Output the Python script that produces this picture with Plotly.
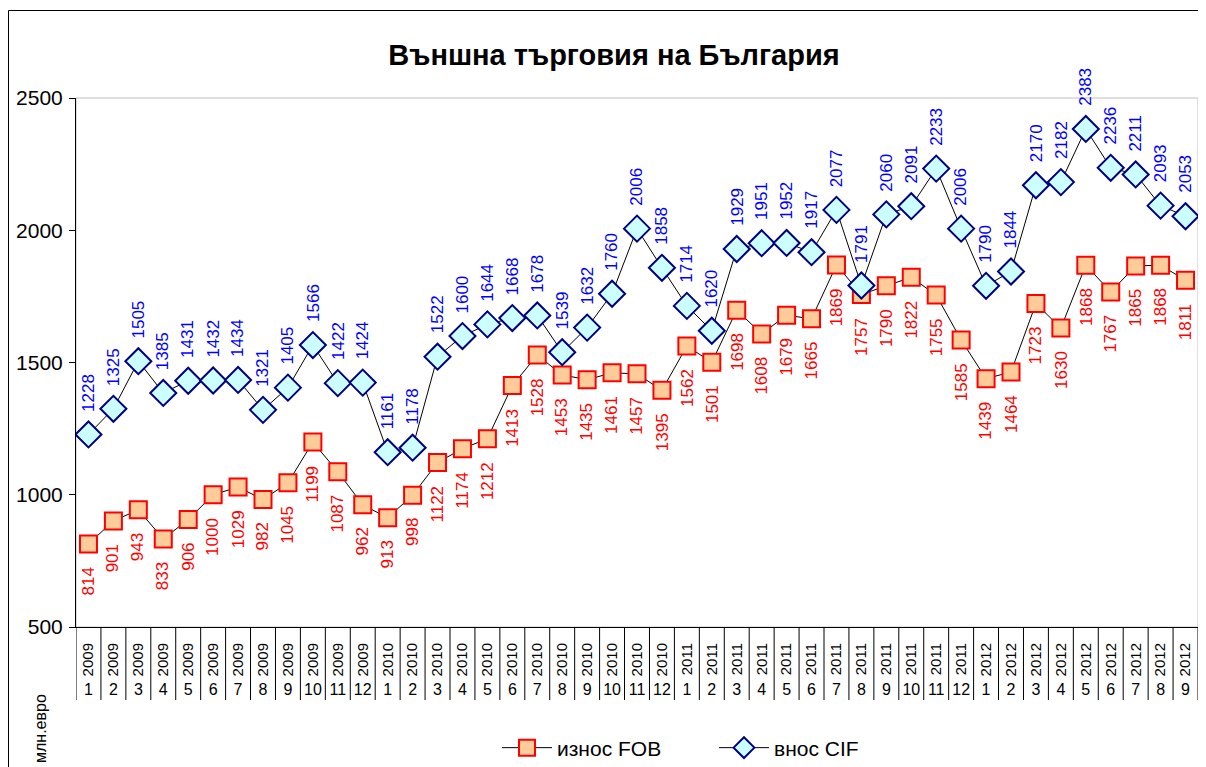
import plotly.graph_objects as go

years = ["2009"] * 12 + ["2010"] * 12 + ["2011"] * 12 + ["2012"] * 9
months = [str(m) for m in range(1, 13)] * 3 + [str(m) for m in range(1, 10)]

export_fob = [814, 901, 943, 833, 906, 1000, 1029, 982, 1045, 1199, 1087, 962,
              913, 998, 1122, 1174, 1212, 1413, 1528, 1453, 1435, 1461, 1457, 1395,
              1562, 1501, 1698, 1608, 1679, 1665, 1869, 1757, 1790, 1822, 1755, 1585,
              1439, 1464, 1723, 1630, 1868, 1767, 1865, 1868, 1811]
import_cif = [1228, 1325, 1505, 1385, 1431, 1432, 1434, 1321, 1405, 1566, 1422, 1424,
              1161, 1178, 1522, 1600, 1644, 1668, 1678, 1539, 1632, 1760, 2006, 1858,
              1714, 1620, 1929, 1951, 1952, 1917, 2077, 1791, 2060, 2091, 2233, 2006,
              1790, 1844, 2170, 2182, 2383, 2236, 2211, 2093, 2053]

y_ticks = [500, 1000, 1500, 2000, 2500]

n = len(years)
idx = list(range(n))

OFF = 8  # page offset of the figure (body margin)
W, H = 1206, 767
ML, MR, MT, MB = 76 - OFF, 16, 98 - OFF, 0
PW = W - ML - MR
PH = H - MT - MB


def py(page_pix):
    return (H - MB - (page_pix - OFF)) / PH


def px(page_pix):
    return ((page_pix - OFF) - ML) / PW


FONT = "Arial, Liberation Sans, sans-serif"

fig = go.Figure()
fig.add_trace(go.Scatter(
    x=idx, y=export_fob, mode="lines+markers", name="износ FOB",
    line=dict(color="black", width=1),
    marker=dict(symbol="square", size=17, color="#FFCC99",
                line=dict(color="#FF0000", width=2)),
    hoverinfo="x+y",
))
fig.add_trace(go.Scatter(
    x=idx, y=import_cif, mode="lines+markers", name="внос CIF",
    line=dict(color="black", width=1),
    marker=dict(symbol="diamond", size=20, color="#CCFFFF",
                line=dict(color="#000080", width=2)),
    hoverinfo="x+y",
))
# empty helper trace so that the month axis (second level of the category axis) is drawn
fig.add_trace(go.Scatter(
    x=idx, y=[None] * n, xaxis="x2", yaxis="y", mode="lines",
    showlegend=False, hoverinfo="skip",
))

annotations = []
for i, v in zip(idx, export_fob):
    annotations.append(dict(x=i, y=v, xref="x", yref="y", text=str(v), showarrow=False,
                            textangle=-90, xanchor="center", yanchor="top", yshift=-21,
                            font=dict(family=FONT, size=17, color="#FF0000")))
for i, v in zip(idx, import_cif):
    annotations.append(dict(x=i, y=v, xref="x", yref="y", text=str(v), showarrow=False,
                            textangle=-90, xanchor="center", yanchor="bottom", yshift=21,
                            font=dict(family=FONT, size=17, color="#0000FF")))
annotations.append(dict(x=px(40), y=py(728), xref="paper", yref="paper", text="млн.евро",
                        showarrow=False, textangle=-90, xanchor="center", yanchor="middle",
                        font=dict(family=FONT, size=16, color="black")))

y_bottom = py(627)
shapes = [
    dict(type="rect", xref="paper", yref="paper", x0=0, x1=1, y0=y_bottom, y1=1,
         line=dict(color="#C0C0C0", width=1), layer="below"),
    dict(type="rect", xref="paper", yref="paper", x0=px(8.5), x1=px(1230), y0=py(10.5), y1=py(800),
         line=dict(color="black", width=1), layer="below"),
]
for k in range(n + 1):
    shapes.append(dict(type="line", xref="x", yref="paper", x0=k - 0.5, x1=k - 0.5,
                       y0=py(700), y1=y_bottom, line=dict(color="black", width=1)))

fig.update_layout(
    width=W, height=H,
    margin=dict(l=ML, r=MR, t=MT, b=MB, autoexpand=False),
    paper_bgcolor="white", plot_bgcolor="white",
    font=dict(family=FONT, color="black"),
    title=dict(text="<b>Външна търговия на България</b>", x=px(614), xref="paper",
               y=1 - (55 - OFF) / H, yanchor="middle", xanchor="center",
               font=dict(family=FONT, size=29, color="black")),
    xaxis=dict(range=[-0.5, n - 0.5], tickmode="array", tickvals=idx, ticktext=years,
               tickangle=-90, showline=True, linecolor="black", linewidth=1,
               showgrid=False, zeroline=False, ticks="", tickfont=dict(size=15),
               ticklabelstandoff=9, domain=[0, 1], fixedrange=True),
    xaxis2=dict(range=[-0.5, n - 0.5], tickmode="array", tickvals=idx, ticktext=months,
                overlaying="x", anchor="free", position=py(678), side="bottom",
                showline=False, showgrid=False, zeroline=False, ticks="",
                tickfont=dict(size=16), tickangle=0, fixedrange=True),
    yaxis=dict(range=[500, 2500], tickmode="array", tickvals=y_ticks,
               domain=[y_bottom, 1], showline=True, linecolor="black", linewidth=1,
               ticks="outside", ticklen=6, tickcolor="black", showgrid=False,
               zeroline=False, tickfont=dict(size=21), ticklabelstandoff=2,
               fixedrange=True),
    legend=dict(orientation="h", x=px(497), xanchor="left",
                y=py(748), yanchor="middle",
                font=dict(size=21), itemwidth=50, entrywidth=152, entrywidthmode="pixels",
                bgcolor="rgba(0,0,0,0)"),
    showlegend=True,
    annotations=annotations,
    shapes=shapes,
)

fig.write_html("out.html")
